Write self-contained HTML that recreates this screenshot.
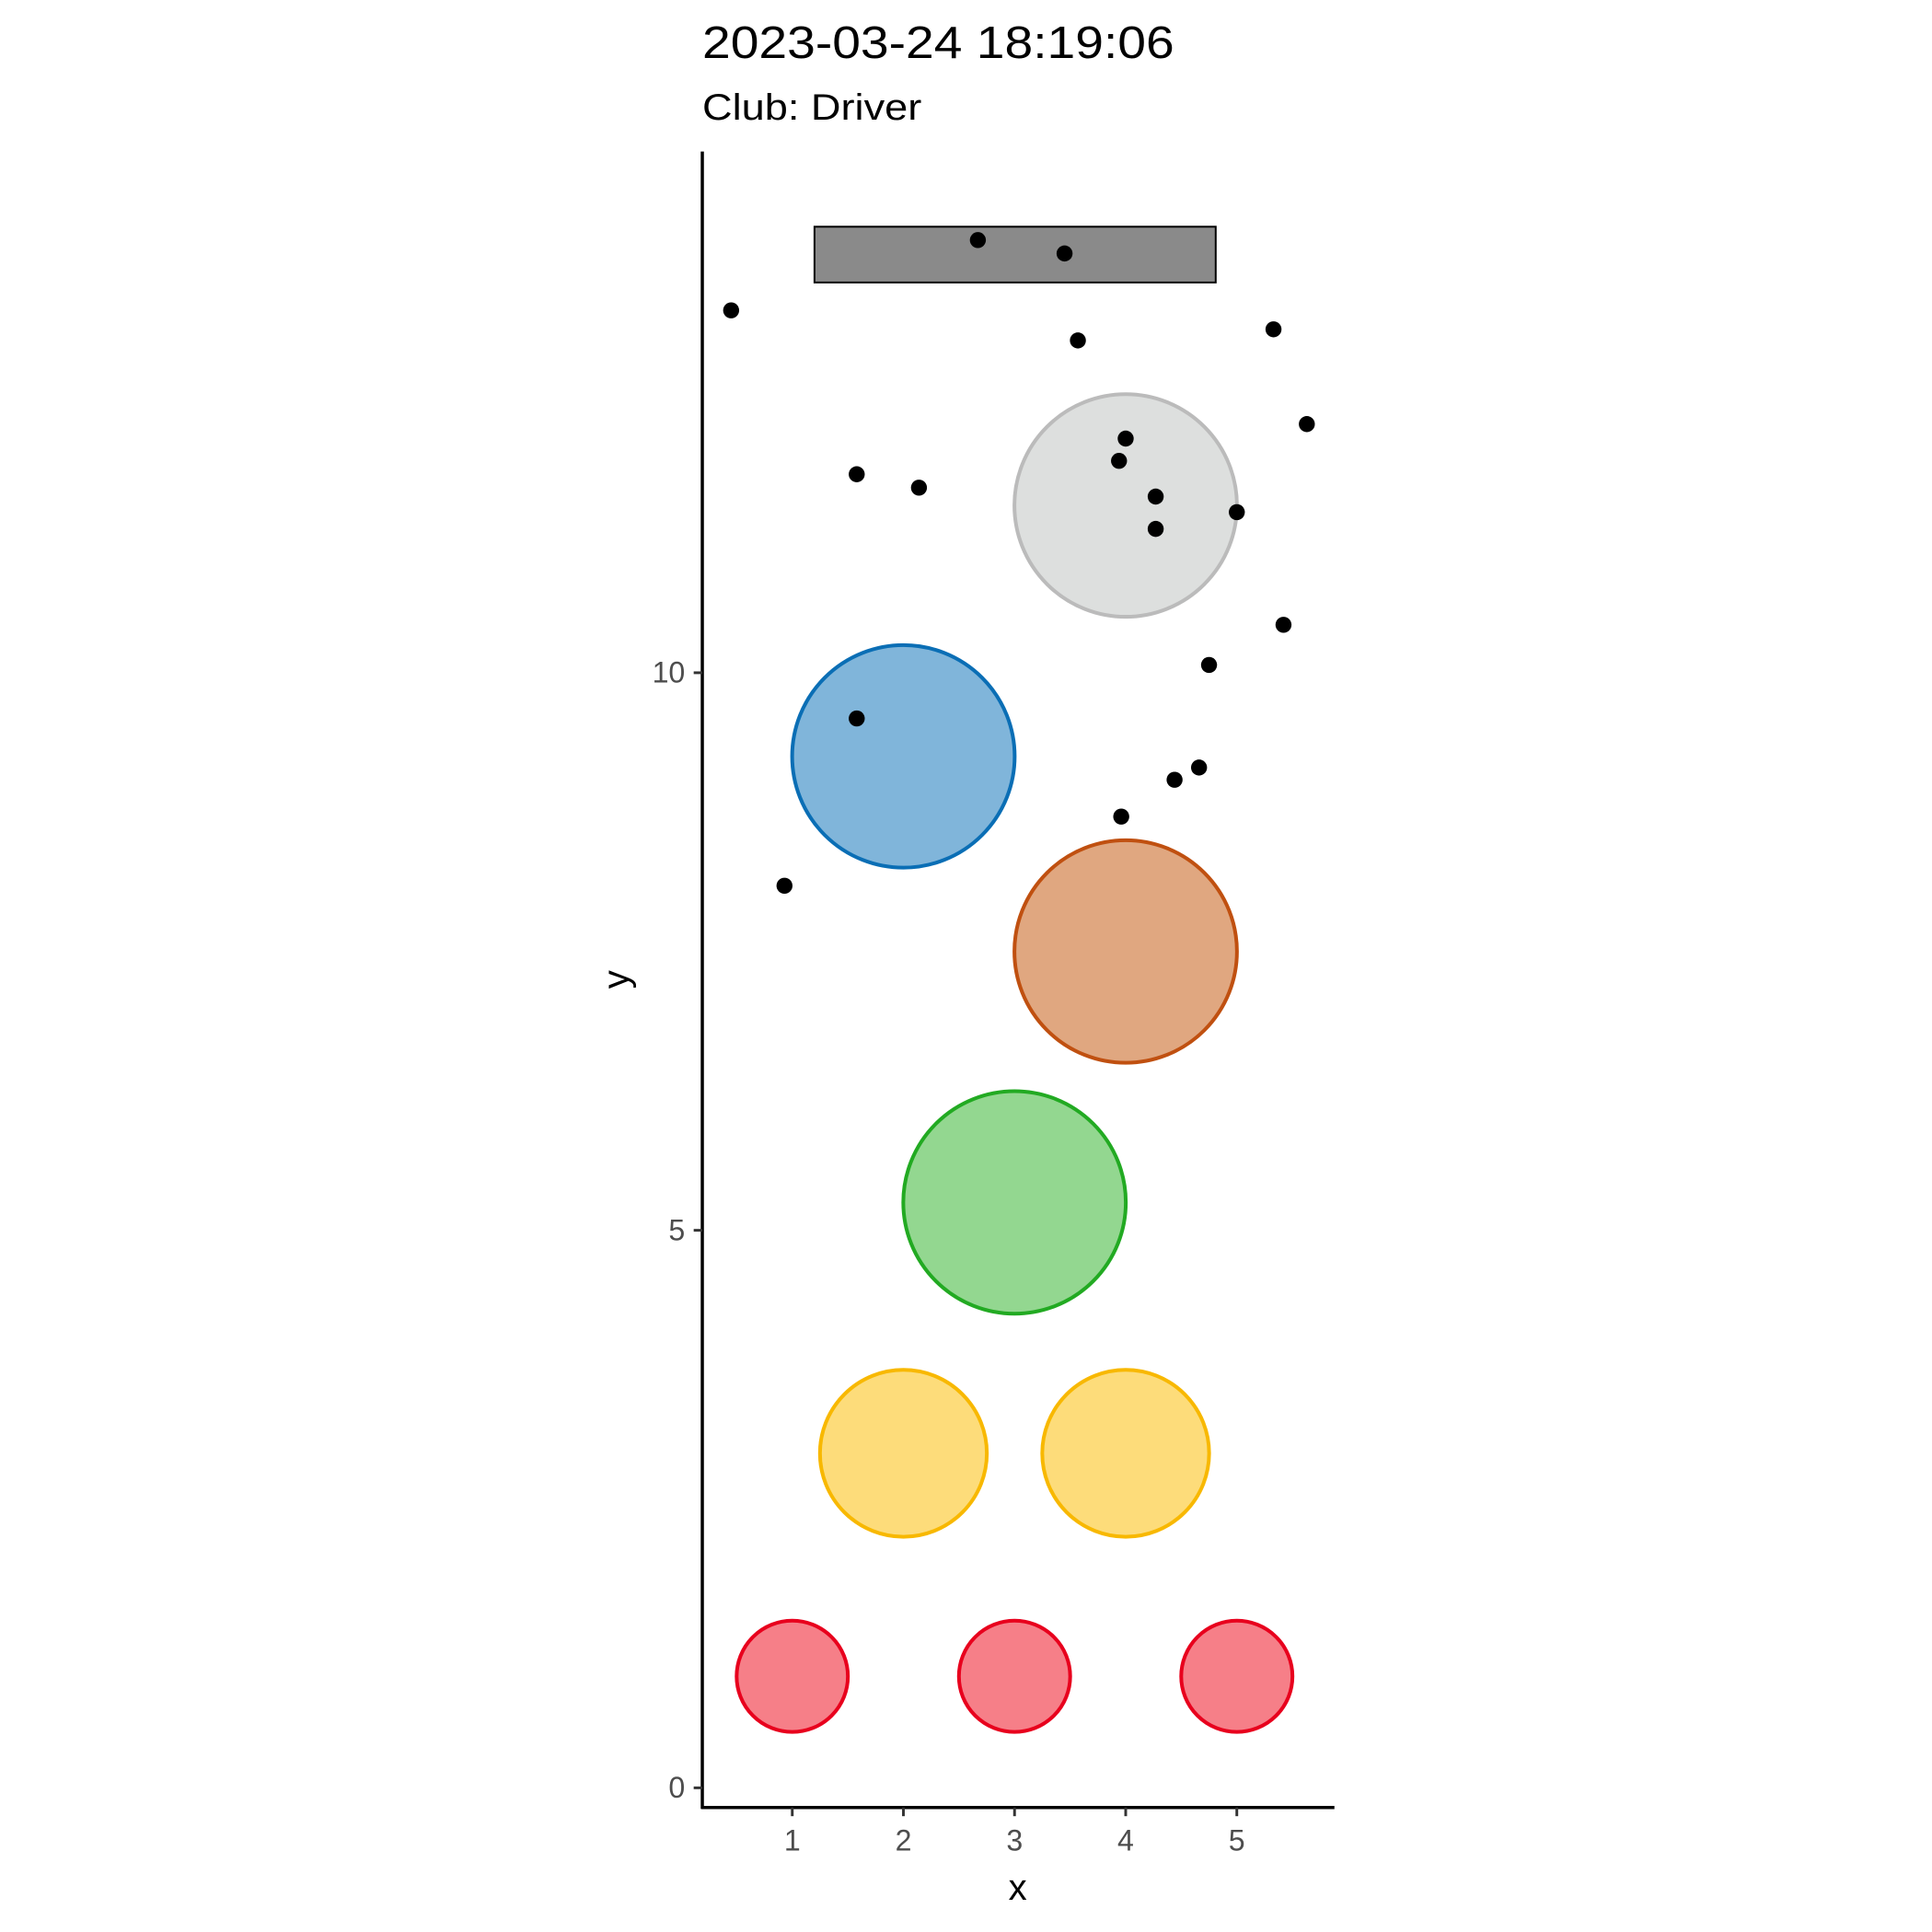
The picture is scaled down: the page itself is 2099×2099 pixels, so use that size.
<!DOCTYPE html>
<html><head><meta charset="utf-8"><style>html,body{margin:0;padding:0;background:#fff}svg{display:block}</style></head>
<body>
<svg id="chart" width="2099" height="2099" viewBox="0 0 1568 1568" xmlns="http://www.w3.org/2000/svg" font-family="'Liberation Sans', sans-serif">
<rect width="1568" height="1568" fill="#fff"/>
<text x="570" y="47" font-size="37" fill="#000" textLength="383" lengthAdjust="spacingAndGlyphs">2023-03-24 18:19:06</text>
<text x="570" y="97" font-size="30" fill="#000" textLength="178" lengthAdjust="spacingAndGlyphs">Club: Driver</text>
<g id="plot"></g>
</svg>
<script>
const xTicks = [1,2,3,4,5];
const yTicks = [0,5,10];
const circleX = [1,3,5,2,4,3,4,2,4];
const circleY = [1,1,1,3,3,5.25,7.5,9.25,11.5];
const circleR = [0.5,0.5,0.5,0.75,0.75,1,1,1,1];
const circleFill = ["#f67f88","#f67f88","#f67f88","#fddc7a","#fddc7a","#93d790","#e0a780","#80b5da","#dddfde"];
const circleStroke = ["#e8001d","#e8001d","#e8001d","#f8b800","#f8b800","#22aa22","#c05010","#0a6eb5","#bbbbbb"];
const rectX = [1.2,4.81];
const rectY = [13.5,14.0];
const ptX = [2.67,3.45,0.45,3.57,5.33,5.63,4.0,3.94,1.58,2.14,4.27,5.0,4.27,5.42,4.75,1.58,4.66,4.44,3.96,0.93];
const ptY = [13.88,13.76,13.25,12.98,13.08,12.23,12.1,11.9,11.78,11.66,11.58,11.44,11.29,10.43,10.07,9.59,9.15,9.04,8.71,8.09];

const sx = v => 643 + (v-1)*90.2;
const sy = v => 1451 - v*90.5;
const NS = "http://www.w3.org/2000/svg";
const g = document.getElementById('plot');
function mk(tag, attrs){const e=document.createElementNS(NS,tag);for(const k in attrs)e.setAttribute(k,attrs[k]);g.appendChild(e);return e;}

circleX.forEach((cx,i)=>{
  const c = mk('circle',{cx:sx(cx),cy:sy(circleY[i]),r:circleR[i]*90.3,fill:circleFill[i],stroke:circleStroke[i],'stroke-width':3});
  
  
});
const r = mk('rect',{x:sx(rectX[0]),y:sy(rectY[1]),width:sx(rectX[1])-sx(rectX[0]),height:sy(rectY[0])-sy(rectY[1]),fill:'#8a8a8a',stroke:'#000','stroke-width':1.5});


ptX.forEach((px,i)=>{
  const p = mk('circle',{cx:sx(px),cy:sy(ptY[i]),r:6.5,fill:'#000'});
  
  
});
const ya = mk('line',{x1:570,y1:123,x2:570,y2:1468,stroke:'#000','stroke-width':2.6});


const xa = mk('line',{x1:569,y1:1467,x2:1083,y2:1467,stroke:'#000','stroke-width':2.6});


xTicks.forEach(t=>{
  const l = mk('line',{x1:sx(t),y1:1467,x2:sx(t),y2:1474,stroke:'#333','stroke-width':2.2});
  
  
  const tx = mk('text',{x:sx(t),y:1502,'font-size':24,fill:'#4d4d4d','text-anchor':'middle'});
  tx.textContent = t;
  
  
});
yTicks.forEach(t=>{
  const l = mk('line',{x1:563,y1:sy(t),x2:570,y2:sy(t),stroke:'#333','stroke-width':2.2});
  
  
  const tx = mk('text',{x:556,y:sy(t)+8,'font-size':24,fill:'#4d4d4d','text-anchor':'end'});
  tx.textContent = t;
  
  
});
const xt = mk('text',{x:826,y:1542,'font-size':30,fill:'#000','text-anchor':'middle'});
xt.textContent='x';


const yt = mk('text',{x:0,y:0,'font-size':30,fill:'#000','text-anchor':'middle',transform:'translate(510,795) rotate(-90)'});
yt.textContent='y';


</script>
</body></html>
